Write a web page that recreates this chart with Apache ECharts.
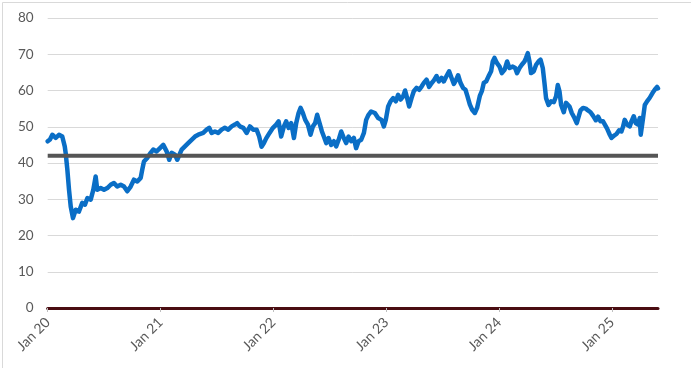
<!DOCTYPE html>
<html>
<head>
<meta charset="utf-8">
<script src="https://cdn.jsdelivr.net/npm/echarts@6/dist/echarts.min.js"></script>
<style>
html,body{margin:0;padding:0;background:#fff;}
#chart{width:691px;height:368px;}
</style>
</head>
<body>
<div id="chart"></div>
<script>
// Decimal years (time) of the series points
var years = [
2020.000,2020.020,2020.041,2020.071,2020.100,2020.129,2020.151,2020.159,2020.174,2020.189,
2020.204,2020.224,2020.248,2020.277,2020.306,2020.330,2020.351,2020.381,2020.404,2020.425,
2020.439,2020.469,2020.499,2020.528,2020.558,2020.587,2020.616,2020.647,2020.676,2020.705,
2020.735,2020.764,2020.794,2020.824,2020.838,2020.853,2020.882,2020.912,2020.935,2020.965,
2020.995,2021.024,2021.054,2021.077,2021.098,2021.128,2021.148,2021.187,2021.216,2021.245,
2021.275,2021.305,2021.334,2021.378,2021.408,2021.431,2021.453,2021.482,2021.511,2021.541,
2021.570,2021.600,2021.630,2021.659,2021.679,2021.703,2021.733,2021.763,2021.792,2021.821,
2021.851,2021.874,2021.895,2021.916,2021.936,2021.966,2021.996,2022.025,2022.046,2022.069,
2022.093,2022.113,2022.135,2022.158,2022.182,2022.202,2022.223,2022.241,2022.261,2022.282,
2022.306,2022.329,2022.350,2022.370,2022.388,2022.409,2022.430,2022.447,2022.468,2022.489,
2022.512,2022.536,2022.556,2022.578,2022.601,2022.624,2022.645,2022.666,2022.689,2022.713,
2022.733,2022.755,2022.778,2022.802,2022.822,2022.843,2022.866,2022.899,2022.928,2022.958,
2022.979,2022.996,2023.017,2023.038,2023.061,2023.085,2023.105,2023.127,2023.150,2023.167,
2023.185,2023.203,2023.224,2023.244,2023.268,2023.291,2023.313,2023.333,2023.357,2023.380,
2023.401,2023.422,2023.446,2023.466,2023.490,2023.510,2023.534,2023.557,2023.578,2023.599,
2023.617,2023.637,2023.658,2023.681,2023.702,2023.720,2023.741,2023.761,2023.785,2023.805,
2023.829,2023.847,2023.864,2023.885,2023.906,2023.929,2023.944,2023.959,2023.980,2024.004,
2024.024,2024.048,2024.071,2024.092,2024.121,2024.142,2024.159,2024.181,2024.201,2024.225,
2024.239,2024.254,2024.269,2024.283,2024.307,2024.328,2024.349,2024.367,2024.387,2024.402,
2024.416,2024.438,2024.461,2024.485,2024.505,2024.520,2024.535,2024.549,2024.573,2024.593,
2024.609,2024.624,2024.644,2024.668,2024.688,2024.700,2024.721,2024.744,2024.768,2024.788,
2024.810,2024.833,2024.857,2024.877,2024.898,2024.921,2024.936,2024.957,2024.981,2024.996,
2025.016,2025.040,2025.063,2025.084,2025.098,2025.113,2025.134,2025.158,2025.173,2025.193,
2025.211,2025.231,2025.246,2025.255,2025.276,2025.291,2025.311,2025.335,2025.359,2025.379,
2025.400,2025.408
];
var values = [
46.0,46.5,47.8,46.9,47.8,47.3,44.6,42.8,38.2,32.6,
28.0,24.8,27.1,26.6,29.0,28.5,30.3,29.9,32.6,36.3,
32.6,33.1,32.6,33.1,34.0,34.5,33.5,34.0,33.5,32.2,
33.5,35.4,34.9,35.9,38.2,40.4,41.4,42.8,43.7,43.2,
44.1,45.0,43.2,40.9,42.8,42.3,40.9,43.7,44.6,45.5,
46.4,47.3,47.8,48.3,49.2,49.7,48.3,48.7,48.3,49.2,
49.7,49.2,50.1,50.6,51.0,50.1,49.7,48.3,50.1,49.2,
49.2,47.3,44.5,45.5,46.8,48.3,49.7,50.6,51.5,47.3,
50.1,51.5,49.7,51.0,46.9,51.0,53.8,55.2,53.8,51.9,
50.6,47.8,50.1,51.0,53.3,51.0,48.7,47.3,45.5,46.9,
45.0,46.0,44.6,46.4,48.7,46.9,45.5,47.3,46.0,46.9,
44.1,46.0,46.4,48.3,51.9,53.3,54.2,53.8,52.4,51.9,
50.1,51.9,55.6,57.0,57.9,57.0,58.8,57.5,58.4,60.0,
57.9,55.6,57.9,59.8,60.7,60.2,61.1,62.1,63.0,61.0,
62.0,62.8,64.0,62.5,63.5,62.5,64.0,65.3,63.5,61.8,
62.8,64.2,62.1,60.7,60.2,58.4,56.1,54.7,53.8,55.2,
58.5,59.8,62.1,62.5,63.9,65.3,68.0,69.0,67.6,66.6,
64.8,65.7,68.0,66.2,66.6,66.2,64.8,66.2,67.1,68.0,
69.0,70.3,68.0,64.8,65.3,67.1,68.0,68.5,66.2,62.1,
57.9,56.0,57.0,56.8,58.4,61.5,59.8,56.1,54.0,56.6,
57.0,55.6,53.8,52.4,51.0,51.0,54.5,55.2,55.0,54.5,
54.0,53.0,51.8,52.8,51.5,51.5,51.8,49.5,47.8,46.9,
47.5,48.0,49.0,48.7,50.0,51.9,50.6,50.1,51.5,52.9,
51.0,50.6,52.4,47.8,52.5,56.0,57.0,58.0,59.3,60.2,
61.0,60.6
];
var referenceLevel = 42;
var tickYears = [2020, 2021, 2022, 2023, 2024, 2025];
var yTicks = [0, 10, 20, 30, 40, 50, 60, 70, 80];
var xStart = 2020, xEnd = 2025.408;

var seriesData = years.map(function (y, i) { return [y, values[i]]; });
var refData = [[xStart, referenceLevel], [xEnd, referenceLevel]];

var chart = echarts.init(document.getElementById('chart'), null, {renderer: 'canvas'});
var font = 'Lato, "Open Sans", sans-serif';
chart.setOption({
  animation: false,
  backgroundColor: '#ffffff',
  graphic: [{
    type: 'rect', left: 0, top: 0, silent: true,
    shape: {x: 0.5, y: 0.5, width: 690, height: 367},
    style: {fill: 'none', stroke: '#d9d9d9', lineWidth: 1}
  }],
  grid: {left: 47.7, right: 33, top: 18, bottom: 60, containLabel: false},
  xAxis: {
    type: 'value', min: xStart, max: xEnd, interval: 1,
    splitLine: {show: false},
    axisLine: {show: true, onZero: false, lineStyle: {color: '#4a0d12', width: 3}},
    axisTick: {show: true, customValues: tickYears, length: 4, lineStyle: {color: '#bfbfbf', width: 1}},
    axisLabel: {
      customValues: tickYears, rotate: 45, margin: 12,
      color: '#595959', fontFamily: font, fontSize: 14,
      formatter: function (v) { return 'Jan ' + String(Math.round(v)).slice(2); }
    }
  },
  yAxis: {
    type: 'value', min: yTicks[0], max: yTicks[yTicks.length - 1], interval: 10,
    axisLine: {show: false}, axisTick: {show: false},
    splitLine: {show: true, lineStyle: {color: '#d9d9d9', width: 1}},
    axisLabel: {color: '#595959', fontFamily: font, fontSize: 13.5, margin: 14}
  },
  series: [{
    type: 'line', data: seriesData, showSymbol: false, symbol: 'none',
    lineStyle: {color: '#0a6ec6', width: 4.5, join: 'round', cap: 'round'},
    z: 3
  }, {
    type: 'line', data: refData, showSymbol: false, symbol: 'none',
    lineStyle: {color: '#555555', width: 4},
    z: 4
  }]
});
</script>
</body>
</html>
